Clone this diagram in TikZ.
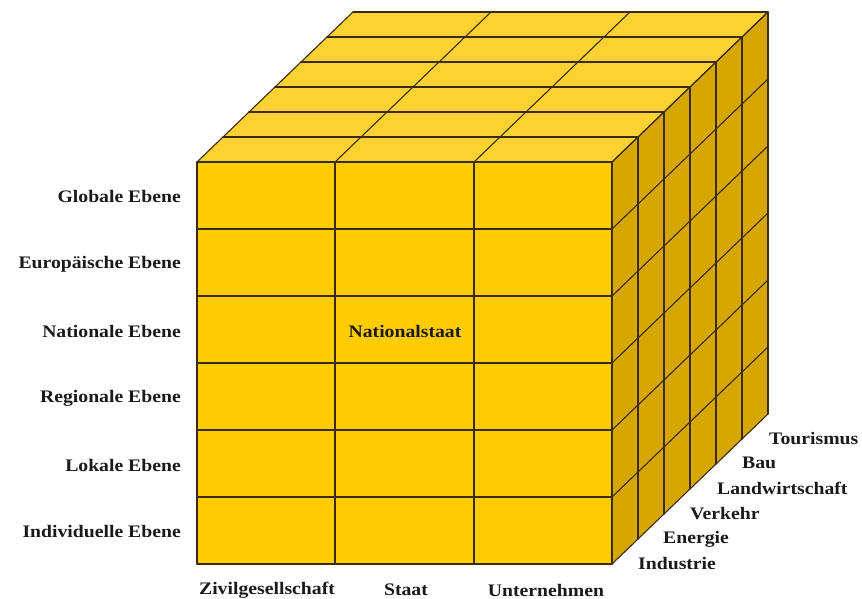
\documentclass[tikz,border=0pt]{standalone}
\usepackage{fontspec}
\newfontfamily\lblfont{Liberation Serif}[FakeStretch=1.12]
\definecolor{frontc}{HTML}{FFCC00}
\definecolor{topc}{HTML}{FCD232}
\definecolor{sidec}{HTML}{D6A700}
\definecolor{edgec}{HTML}{3C2A14}
\definecolor{txtc}{HTML}{1A1A1A}
\tikzset{
  grid line/.style={draw=edgec, line width=1.1pt, line cap=round},
  lbl/.style={font=\lblfont\bfseries\fontsize{17.6}{20}\selectfont, text=txtc, inner sep=0pt},
}
\begin{document}
\begin{tikzpicture}[x=1pt,y=-1pt]
\useasboundingbox (0,0) rectangle (862,599);
% corners
\coordinate (FTL) at (197,162);
\coordinate (FTR) at (612,162);
\coordinate (FBL) at (197,564);
\coordinate (FBR) at (612,564);
\coordinate (BTL) at (353,12);
\coordinate (BTR) at (768,12);
\coordinate (BBR) at (768,414);
% faces
\fill[frontc] (FTL) -- (FTR) -- (FBR) -- (FBL) -- cycle;
\fill[topc] (FTL) -- (BTL) -- (BTR) -- (FTR) -- cycle;
\fill[sidec] (FTR) -- (BTR) -- (BBR) -- (FBR) -- cycle;
% front rows and side rows
\foreach \i in {0,...,6} {
  \draw[grid line] (197,162+67*\i) -- (612,162+67*\i);
  \draw[grid line] (612,162+67*\i) -- (768,12+67*\i);
}
% front columns and top columns
\foreach \xx in {197,335,474,612} {
  \draw[grid line] (\xx,162) -- (\xx,564);
  \draw[grid line] (\xx,162) -- (\xx+156,12);
}
% depth layers
\foreach \k in {0,...,6} {
  \draw[grid line] (197+26*\k,162-25*\k) -- (612+26*\k,162-25*\k);
  \draw[grid line] (612+26*\k,162-25*\k) -- (612+26*\k,564-25*\k);
}
% row labels
\node[lbl, anchor=east] (l1) at (181,196) {Globale Ebene};
\node[lbl, anchor=east] (l2) at (181,264) {Europäische Ebene};
\node[lbl, anchor=east] (l3) at (181,331) {Nationale Ebene};
\node[lbl, anchor=east] (l4) at (181,398) {Regionale Ebene};
\node[lbl, anchor=east] (l5) at (181,465) {Lokale Ebene};
\node[lbl, anchor=east] (l6) at (181,531) {Individuelle Ebene};
% column labels
\node[lbl] (c1) at (267,590) {Zivilgesellschaft};
\node[lbl] (c2) at (406,590) {Staat};
\node[lbl] (c3) at (546,590) {Unternehmen};
% depth labels
\node[lbl, anchor=west] (d1) at (638,563) {Industrie};
\node[lbl, anchor=west] (d2) at (663,539) {Energie};
\node[lbl, anchor=west] (d3) at (690,514) {Verkehr};
\node[lbl, anchor=west] (d4) at (717,488) {Landwirtschaft};
\node[lbl, anchor=west] (d5) at (742,463) {Bau};
\node[lbl, anchor=west] (d6) at (769,438) {Tourismus};
% centre label
\node[lbl] (ns) at (405,331) {Nationalstaat};
\end{tikzpicture}
\end{document}
